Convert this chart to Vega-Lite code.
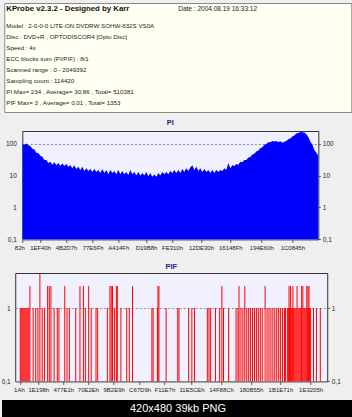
{
  "$schema": "https://vega.github.io/schema/vega-lite/v6.json",
  "padding": {"top": 2, "left": 0, "right": 0, "bottom": 0},
  "background": "#EFEFEF",
  "spacing": 5,
  "center": true,
  "config": {
    "font": "Liberation Sans",
    "axis": {"labelFont": "Liberation Sans", "labelFontSize": 6.5, "labelColor": "#222222", "domain": false},
    "title": {"font": "Liberation Sans"}
  },
  "datasets": {
    "header": [
      {"line": 0, "col": 0, "kind": "title", "text": "KProbe v2.3.2 - Designed by Karr"},
      {"line": 0, "col": 1, "kind": "date", "text": "Date : 2004.08.19 16:33:12"},
      {"line": 1, "col": 0, "kind": "info", "text": "Model : 2-0-0-0 LITE-ON DVDRW SOHW-832S  VS0A"},
      {"line": 2, "col": 0, "kind": "info", "text": "Disc : DVD+R , OPTODISCOR4 [Opto Disc]"},
      {"line": 3, "col": 0, "kind": "info", "text": "Speed : 4x"},
      {"line": 4, "col": 0, "kind": "info", "text": "ECC blocks sum (PI/PIF) : 8/1"},
      {"line": 5, "col": 0, "kind": "info", "text": "Scanned range : 0 - 2049392"},
      {"line": 6, "col": 0, "kind": "info", "text": "Sampling count : 114420"},
      {"line": 7, "col": 0, "kind": "info", "text": "PI Max= 234 , Average= 30,86 , Total= 510381"},
      {"line": 8, "col": 0, "kind": "info", "text": "PIF Max= 3 , Average= 0,01 , Total= 1353"}
    ],
    "pi": [
      {"pos":0,"pi":98},{"pos":2,"pi":92},{"pos":4,"pi":102},{"pos":6,"pi":90},{"pos":8,"pi":85},{"pos":10,"pi":70},
      {"pos":12,"pi":66},{"pos":14,"pi":52},{"pos":16,"pi":50},{"pos":18,"pi":42},{"pos":20,"pi":39},{"pos":22,"pi":31},
      {"pos":24,"pi":31},{"pos":26,"pi":25},{"pos":28,"pi":27},{"pos":30,"pi":22},{"pos":32,"pi":26},{"pos":34,"pi":21},
      {"pos":36,"pi":25},{"pos":38,"pi":20},{"pos":40,"pi":24},{"pos":42,"pi":20},{"pos":44,"pi":23},{"pos":46,"pi":19},
      {"pos":48,"pi":21},{"pos":50,"pi":17},{"pos":52,"pi":21},{"pos":54,"pi":16},{"pos":56,"pi":19},{"pos":58,"pi":15},
      {"pos":60,"pi":19},{"pos":62,"pi":14},{"pos":64,"pi":17},{"pos":66,"pi":14},{"pos":68,"pi":16},{"pos":70,"pi":13},
      {"pos":72,"pi":16},{"pos":74,"pi":13},{"pos":76,"pi":15},{"pos":78,"pi":12},{"pos":80,"pi":16},{"pos":82,"pi":12},
      {"pos":84,"pi":15},{"pos":86,"pi":11},{"pos":88,"pi":15},{"pos":90,"pi":12},{"pos":92,"pi":14},{"pos":94,"pi":11},
      {"pos":96,"pi":15},{"pos":98,"pi":11},{"pos":100,"pi":14},{"pos":102,"pi":11},{"pos":104,"pi":13},{"pos":106,"pi":10.5},
      {"pos":108,"pi":15},{"pos":110,"pi":11},{"pos":112,"pi":13},{"pos":114,"pi":10},{"pos":116,"pi":13},{"pos":118,"pi":10},
      {"pos":120,"pi":12},{"pos":122,"pi":10},{"pos":124,"pi":13},{"pos":126,"pi":9.5},{"pos":128,"pi":12},{"pos":130,"pi":9},
      {"pos":132,"pi":11},{"pos":134,"pi":9},{"pos":136,"pi":12},{"pos":138,"pi":10},{"pos":140,"pi":13},{"pos":142,"pi":11},
      {"pos":144,"pi":13},{"pos":146,"pi":11},{"pos":148,"pi":14},{"pos":150,"pi":12},{"pos":152,"pi":15},{"pos":154,"pi":12},
      {"pos":156,"pi":15},{"pos":158,"pi":12},{"pos":160,"pi":16},{"pos":162,"pi":13},{"pos":164,"pi":17},{"pos":166,"pi":14},
      {"pos":168,"pi":18},{"pos":170,"pi":21},{"pos":172,"pi":15},{"pos":174,"pi":19},{"pos":176,"pi":14},{"pos":178,"pi":17},
      {"pos":180,"pi":13},{"pos":182,"pi":16},{"pos":184,"pi":13},{"pos":186,"pi":15},{"pos":188,"pi":12},{"pos":190,"pi":15},
      {"pos":192,"pi":12},{"pos":194,"pi":15},{"pos":196,"pi":13},{"pos":198,"pi":15},{"pos":200,"pi":14},{"pos":202,"pi":17},
      {"pos":204,"pi":15},{"pos":206,"pi":25},{"pos":208,"pi":17},{"pos":210,"pi":21},{"pos":212,"pi":20},{"pos":214,"pi":23},
      {"pos":216,"pi":22},{"pos":218,"pi":27},{"pos":220,"pi":26},{"pos":222,"pi":31},{"pos":224,"pi":31},{"pos":226,"pi":37},
      {"pos":228,"pi":38},{"pos":230,"pi":46},{"pos":232,"pi":48},{"pos":234,"pi":57},{"pos":236,"pi":61},{"pos":238,"pi":72},
      {"pos":240,"pi":78},{"pos":242,"pi":92},{"pos":244,"pi":97},{"pos":246,"pi":110},{"pos":248,"pi":112},{"pos":250,"pi":121},
      {"pos":252,"pi":117},{"pos":254,"pi":122},{"pos":256,"pi":114},{"pos":258,"pi":120},{"pos":260,"pi":108},{"pos":262,"pi":116},
      {"pos":264,"pi":122},{"pos":266,"pi":138},{"pos":268,"pi":146},{"pos":270,"pi":168},{"pos":272,"pi":180},{"pos":274,"pi":208},
      {"pos":276,"pi":218},{"pos":278,"pi":234},{"pos":280,"pi":228},{"pos":282,"pi":226},{"pos":284,"pi":198},{"pos":286,"pi":162},
      {"pos":288,"pi":118},{"pos":290,"pi":92},{"pos":292,"pi":63},{"pos":294,"pi":52},{"pos":296,"pi":42}
    ],
    "pif": [
      {"p":0,"v":1},{"p":1,"v":1},{"p":2,"v":1},{"p":3,"v":1},{"p":4,"v":1},{"p":5,"v":1},{"p":6,"v":1},{"p":7,"v":1},
      {"p":8,"v":1},{"p":9,"v":1},{"p":10,"v":2},{"p":13.3,"v":1},{"p":16,"v":1},{"p":18.3,"v":1},{"p":20.3,"v":3},
      {"p":22.7,"v":1},{"p":25,"v":1},{"p":28.3,"v":2},{"p":30,"v":2},{"p":31.7,"v":2},{"p":35,"v":1},{"p":38.3,"v":1},
      {"p":40,"v":1},{"p":46,"v":2},{"p":48.3,"v":1},{"p":50.7,"v":1},{"p":57.3,"v":1},{"p":61.7,"v":2},{"p":65.3,"v":2},
      {"p":67.3,"v":1},{"p":70.7,"v":2},{"p":73.3,"v":1},{"p":78.3,"v":1},{"p":80,"v":1},{"p":90,"v":1},{"p":92.7,"v":2},
      {"p":94,"v":2},{"p":95.3,"v":2},{"p":97.3,"v":1},{"p":99.3,"v":2},{"p":100.3,"v":2},{"p":104,"v":1},{"p":110,"v":1},
      {"p":112.7,"v":1},{"p":116,"v":2},{"p":136,"v":1},{"p":137.3,"v":1},{"p":141.7,"v":1},{"p":142.3,"v":2},{"p":143.3,"v":2},
      {"p":150.7,"v":1},{"p":162.7,"v":1},{"p":164,"v":1},{"p":174,"v":1},{"p":177.3,"v":1},{"p":180,"v":1},{"p":193.3,"v":1},
      {"p":195,"v":1},{"p":196.7,"v":1},{"p":201.7,"v":1},{"p":206,"v":1},{"p":208.3,"v":2},{"p":210,"v":1},{"p":215.3,"v":1},
      {"p":223,"v":1},{"p":225,"v":1},{"p":226,"v":2},{"p":228,"v":1},{"p":230,"v":1},{"p":232,"v":2},{"p":234,"v":1},
      {"p":236,"v":1},{"p":238,"v":1},{"p":240,"v":1},{"p":242,"v":1},{"p":244,"v":1},{"p":246,"v":1},{"p":248,"v":1},
      {"p":250,"v":1},{"p":253,"v":2},{"p":255,"v":1},{"p":257,"v":1},{"p":259,"v":1},{"p":261,"v":1},{"p":263,"v":1},
      {"p":265,"v":1},{"p":267,"v":1},{"p":269,"v":1},{"p":271,"v":1},{"p":273,"v":1},{"p":274,"v":1},
      {"p":276,"v":1},{"p":277,"v":1},{"p":277.7,"v":2},{"p":278,"v":1},{"p":279,"v":1},{"p":279.3,"v":2},{"p":280,"v":1},
      {"p":281,"v":1},{"p":281.7,"v":2},{"p":282,"v":1},{"p":283,"v":1},{"p":284,"v":1},{"p":285,"v":1},{"p":286,"v":2},
      {"p":287,"v":1},{"p":288,"v":1},{"p":289,"v":1},{"p":290,"v":1},{"p":290.7,"v":2},{"p":291,"v":1},{"p":292,"v":2},
      {"p":293,"v":1},{"p":294,"v":1},{"p":295,"v":1},{"p":296,"v":2},{"p":297,"v":1},{"p":297.3,"v":2},{"p":298,"v":1},
      {"p":298.3,"v":2},{"p":299,"v":1},{"p":300,"v":1},{"p":303,"v":1},{"p":306,"v":1},{"p":310,"v":1}
    ]
  },
  "vconcat": [
    {
      "width": 347,
      "height": 109,
      "view": {"fill": "#FFFFF2", "stroke": "#8A8A8A"},
      "data": {"name": "header"},
      "layer": [
        {
          "transform": [{"filter": "datum.kind == 'title'"}],
          "mark": {"type": "text", "align": "left", "baseline": "middle", "fontSize": 7.8, "fontWeight": "bold", "color": "#111111", "dy": -6},
          "encoding": {
            "x": {"field": "col", "type": "quantitative", "scale": {"domain": [0, 1], "range": [2, 174]}, "axis": null},
            "y": {"field": "line", "type": "quantitative", "scale": {"domain": [0, 8], "range": [12.3, 100.3]}, "axis": null},
            "text": {"field": "text"}
          }
        },
        {
          "transform": [{"filter": "datum.kind == 'date'"}],
          "mark": {"type": "text", "align": "left", "baseline": "middle", "fontSize": 6.5, "color": "#222222", "dy": -6},
          "encoding": {
            "x": {"field": "col", "type": "quantitative", "axis": null},
            "y": {"field": "line", "type": "quantitative", "axis": null},
            "text": {"field": "text"}
          }
        },
        {
          "transform": [{"filter": "datum.kind == 'info'"}],
          "mark": {"type": "text", "align": "left", "baseline": "middle", "fontSize": 6.2, "color": "#222222"},
          "encoding": {
            "x": {"field": "col", "type": "quantitative", "axis": null},
            "y": {"field": "line", "type": "quantitative", "axis": null},
            "text": {"field": "text"}
          }
        }
      ]
    },
    {
      "width": 296,
      "height": 108.4,
      "title": {"text": "PI", "fontSize": 7.5, "fontWeight": "bold", "color": "#25257F", "offset": 3},
      "view": {"fill": "#F0F0FF", "stroke": "#333333"},
      "data": {"name": "pi"},
      "layer": [
        {
          "mark": {"type": "area", "color": "#0000FF", "interpolate": "linear", "clip": true},
          "encoding": {
            "x": {"field": "pos", "type": "quantitative", "scale": {"domain": [0, 296], "nice": false, "zero": false},
              "axis": {"values": [0, 17.8, 43.7, 70.3, 96, 123.7, 149.7, 178.7, 208, 239, 270], "tickCount": 40,
                "labelExpr": "['82h','1EF40h','4B2D7h','77E6Fh','A414Fh','D19B8h','FE310h','12DE30h','16148Fh','194E60h','1C0845h'][indexof([0,17.8,43.7,70.3,96,123.7,149.7,178.7,208,239,270], datum.value)]",
                "grid": false, "tickSize": 3, "tickColor": "#555555", "labelPadding": 2, "labelFontSize": 6, "labelFlush": false, "labelOverlap": false, "labelBound": false,
                "labelOffset": {"condition": {"test": "datum.value == 0", "value": -3}, "value": 0},
                "title": " ", "titleFontSize": 2, "titlePadding": 4}},
            "y": {"field": "pi", "type": "quantitative", "scale": {"type": "log", "domain": [0.1, 250], "nice": false},
              "axis": {"orient": "left", "values": [0.1, 1, 10, 100], "labelExpr": "replace(format(datum.value, '~g'), '.', ',')",
                "grid": true, "gridDash": [2, 2], "gridColor": "#8C8C8C", "ticks": false, "labelPadding": 6, "title": null}},
            "y2": {"datum": 0.1}
          }
        },
        {
          "mark": {"type": "point", "opacity": 0},
          "encoding": {
            "x": {"field": "pos", "type": "quantitative"},
            "y": {"field": "pi", "type": "quantitative", "scale": {"type": "log", "domain": [0.1, 250], "nice": false},
              "axis": {"orient": "right", "values": [0.1, 1, 10, 100], "labelExpr": "replace(format(datum.value, '~g'), '.', ',')",
                "grid": false, "tickSize": 2, "tickColor": "#555555", "labelPadding": 2, "title": null}}
          }
        }
      ],
      "resolve": {"scale": {"y": "independent"}, "axis": {"y": "independent"}}
    },
    {
      "width": 312,
      "height": 108.4,
      "title": {"text": "PIF", "fontSize": 7.5, "fontWeight": "bold", "color": "#25257F", "offset": 0},
      "view": {"fill": "#F0F0FF", "stroke": "#333333"},
      "data": {"name": "pif"},
      "layer": [
        {
          "mark": {"type": "bar", "color": "#FF0000", "width": 1, "clip": true},
          "encoding": {
            "x": {"field": "p", "type": "quantitative", "scale": {"domain": [0, 312], "nice": false, "zero": false},
              "axis": {"values": [0, 18.7, 44.5, 70, 96.5, 123.3, 149, 177, 207.5, 238.3, 268.8, 300], "tickCount": 40,
                "labelExpr": "['1Ah','1E198h','477E1h','70E2Eh','9B2E9h','C67D9h','F11E7h','11E5CEh','14F88Ch','180B55h','1B1E71h','1E3205h'][indexof([0,18.7,44.5,70,96.5,123.3,149,177,207.5,238.3,268.8,300], datum.value)]",
                "grid": false, "tickSize": 3, "tickColor": "#555555", "labelPadding": 2, "labelFontSize": 6, "labelFlush": false, "labelOverlap": false, "labelBound": false,
                "labelOffset": {"condition": {"test": "datum.value == 0", "value": -1.3}, "value": 0},
                "title": " ", "titleFontSize": 1, "titlePadding": 1}},
            "y": {"field": "v", "type": "quantitative", "scale": {"type": "log", "domain": [0.1, 3], "nice": false},
              "axis": {"orient": "left", "values": [0.1, 1], "labelExpr": "replace(format(datum.value, '~g'), '.', ',')",
                "grid": true, "gridDash": [2, 2], "gridColor": "#8C8C8C", "ticks": false, "labelPadding": 5, "title": null}},
            "y2": {"datum": 0.1}
          }
        },
        {
          "mark": {"type": "point", "opacity": 0},
          "encoding": {
            "x": {"field": "p", "type": "quantitative"},
            "y": {"field": "v", "type": "quantitative", "scale": {"type": "log", "domain": [0.1, 3], "nice": false},
              "axis": {"orient": "right", "values": [0.1, 1], "labelExpr": "replace(format(datum.value, '~g'), '.', ',')",
                "grid": false, "tickSize": 2, "tickColor": "#555555", "labelPadding": 2, "title": null}}
          }
        }
      ],
      "resolve": {"scale": {"y": "independent"}, "axis": {"y": "independent"}}
    },
    {
      "width": 352,
      "height": 17,
      "view": {"fill": "#000000", "stroke": null},
      "data": {"values": [{"caption": "420x480 39kb PNG"}]},
      "mark": {"type": "text", "color": "#FFFFFF", "fontSize": 11, "baseline": "middle"},
      "encoding": {"text": {"field": "caption"}}
    }
  ]
}
